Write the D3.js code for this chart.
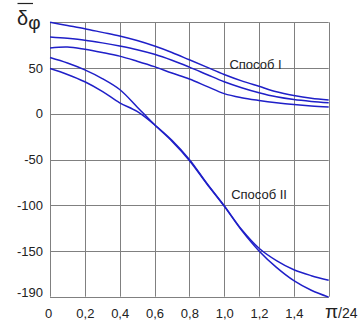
<!DOCTYPE html>
<html>
<head>
<meta charset="utf-8">
<script src="https://cdn.jsdelivr.net/npm/d3@7"></script>
<style>
  html, body { margin: 0; padding: 0; background: #fff; }
  svg { display: block; font-family: "Liberation Sans", Arial, sans-serif; }
</style>
</head>
<body>
<svg id="chart" width="363" height="323"></svg>
<script>
// ---- data ----
const xValues = [0, 0.1, 0.2, 0.3, 0.4, 0.5, 0.6, 0.7, 0.8, 0.9, 1.0, 1.1, 1.2, 1.3, 1.4, 1.5, 1.6];
const method1a = [100, 96.5, 93, 89, 85, 80, 74, 67, 59, 51, 43, 36, 30, 24, 20, 17, 15];
const method1b = [84, 82.5, 80.5, 77.5, 74, 70, 65, 58.5, 51, 43, 35, 28.5, 23, 18.5, 15.5, 13.5, 12];
const method1c = [72, 73, 70.5, 67, 63, 57.5, 51.5, 44.5, 38, 30, 22, 17.5, 14.5, 12, 10, 8.5, 7.5];
const method2a = [61.5, 55.5, 48, 38.5, 26.5, 7.5, -12, -30, -51, -76.5, -101, -127.5, -150, -168, -182.5, -193, -200.5];
const method2b = [49.5, 43, 35, 24.5, 12, 2.5, -12, -29, -50, -76, -100.5, -126.5, -147, -160.5, -170.5, -177, -182];
const seriesList = [method1a, method1b, method1c, method2a, method2b];
const xTickValues = [0, 0.2, 0.4, 0.6, 0.8, 1.0, 1.2, 1.4];
const xTickLabels = ["0", "0,2", "0,4", "0,6", "0,8", "1,0", "1,2", "1,4"];
const yTickValues = [-200, -150, -100, -50, 0, 50];
const yTickLabels = ["-190", "-150", "-100", "-50", "0", "50"];
const xGridValues = [0, 0.2, 0.4, 0.6, 0.8, 1.0, 1.2, 1.4, 1.6];
const yGridValues = [-200, -150, -100, -50, 0, 50, 100];
const labelI = "Способ I";
const labelII = "Способ II";

// ---- layout ----
const svg = d3.select("#chart");
const x = d3.scaleLinear().domain([0, 1.6]).range([50, 328.7]);
const y = d3.scaleLinear().domain([-200, 100]).range([296.7, 22.3]);

// grid
const grid = svg.append("g").attr("stroke", "#808080").attr("stroke-width", 1);
grid.selectAll("line.v").data(xGridValues).join("line")
  .attr("class", "v")
  .attr("x1", d => Math.round(x(d)) + 0.5).attr("x2", d => Math.round(x(d)) + 0.5)
  .attr("y1", y(100)).attr("y2", y(-200));
grid.selectAll("line.h").data(yGridValues).join("line")
  .attr("class", "h")
  .attr("y1", d => Math.round(y(d)) + 0.5).attr("y2", d => Math.round(y(d)) + 0.5)
  .attr("x1", x(0)).attr("x2", x(1.6));

// axes (labels only)
const yAxis = d3.axisLeft(y).tickValues(yTickValues)
  .tickFormat((d, i) => yTickLabels[i]).tickSize(0).tickPadding(7);
const gy = svg.append("g").attr("transform", `translate(${x(0)},0)`).call(yAxis);
gy.select(".domain").remove();
gy.selectAll("text").attr("font-size", 13).attr("fill", "#222")
  .attr("font-family", '"Liberation Sans", Arial, sans-serif');
gy.selectAll(".tick").filter(d => d === -200).select("text").attr("dy", "-0.05em");

const xAxis = d3.axisBottom(x).tickValues(xTickValues)
  .tickFormat((d, i) => xTickLabels[i]).tickSize(0).tickPadding(12);
const gx = svg.append("g").attr("transform", `translate(0,${y(-200)})`).call(xAxis);
gx.select(".domain").remove();
gx.selectAll("text").attr("font-size", 13).attr("fill", "#222")
  .attr("font-family", '"Liberation Sans", Arial, sans-serif');
gx.selectAll(".tick").filter(d => d === 0).select("text").attr("dx", "-2");

// curves
const line = d3.line().x((d, i) => x(xValues[i])).y(d => y(d)).curve(d3.curveCatmullRom.alpha(0.5));
svg.append("g").selectAll("path").data(seriesList).join("path")
  .attr("d", line)
  .attr("fill", "none")
  .attr("stroke", "#1f1fc8")
  .attr("stroke-width", 1.5);

// curve labels
svg.append("text").attr("x", x(1.03)).attr("y", y(54) + 4.5)
  .attr("font-size", 13).attr("fill", "#222").text(labelI);
svg.append("text").attr("x", x(1.04)).attr("y", y(-88) + 4.5)
  .attr("font-size", 13).attr("fill", "#222").text(labelII);

// axis titles
const yt = svg.append("text").attr("x", 17).attr("y", 25).attr("fill", "#222");
yt.append("tspan").attr("font-size", 20).text("δ");
yt.append("tspan").attr("font-size", 19).attr("dy", 4).text("φ");
svg.append("line").attr("x1", 17.5).attr("x2", 33).attr("y1", 3.5).attr("y2", 3.5)
  .attr("stroke", "#222").attr("stroke-width", 1.2);

const xt = svg.append("text").attr("x", 325).attr("y", 318).attr("fill", "#222");
xt.append("tspan").attr("font-size", 19).text("π");
xt.append("tspan").attr("font-size", 14).text("/24");
</script>
</body>
</html>
